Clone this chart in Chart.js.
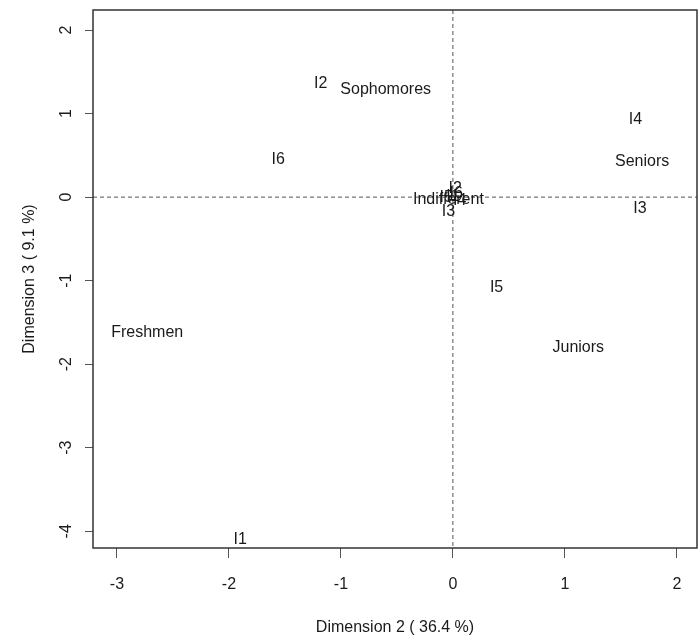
<!DOCTYPE html>
<html>
<head>
<meta charset="utf-8">
<script src="https://cdn.jsdelivr.net/npm/chart.js@4"></script>
<style>
  body { margin: 0; background: #fff; }
  #wrap { width: 698px; height: 635px; }
</style>
</head>
<body>
<div id="wrap"><canvas id="caChart" width="698" height="635"></canvas></div>
<script>
// Point labels and their coordinates (Dimension 2, Dimension 3)
const pointLabels = ['Sophomores', 'I2', 'I6', 'I4', 'Seniors', 'I3', 'I5', 'Juniors', 'Freshmen', 'I1',
  'Indifferent', 'I2', 'I3', 'I1', 'I4', 'I5', 'I6'];
const dim2 = [-0.60, -1.18, -1.56, 1.63, 1.69, 1.67, 0.39, 1.12, -2.73, -1.90,
  -0.04, 0.02, -0.04, 0.00, 0.06, -0.06, 0.03];
const dim3 = [1.31, 1.38, 0.47, 0.95, 0.44, -0.12, -1.07, -1.78, -1.60, -4.08,
  -0.01, 0.12, -0.16, 0.03, -0.02, 0.01, 0.06];

// Axis tick values
const xTicks = [-3, -2, -1, 0, 1, 2];
const yTicks = [-4, -3, -2, -1, 0, 1, 2];

const textColor = '#1a1a1a';
const fontFamily = "'Liberation Sans', Arial, sans-serif";

// Draws box, dashed zero lines and text labels
const mapPlugin = {
  id: 'mapPlugin',
  beforeDatasetsDraw(chart) {
    const { ctx, chartArea: a, scales } = chart;
    const x0 = scales.x.getPixelForValue(0);
    const y0 = scales.y.getPixelForValue(0);
    ctx.save();
    ctx.strokeStyle = '#555';
    ctx.lineWidth = 1;
    ctx.setLineDash([4, 3]);
    ctx.beginPath();
    ctx.moveTo(x0, a.top);
    ctx.lineTo(x0, a.bottom);
    ctx.moveTo(a.left, y0);
    ctx.lineTo(a.right, y0);
    ctx.stroke();
    ctx.setLineDash([]);
    ctx.strokeStyle = '#333';
    ctx.lineWidth = 1.5;
    ctx.strokeRect(a.left, a.top, a.right - a.left, a.bottom - a.top);
    ctx.restore();
  },
  afterDatasetsDraw(chart) {
    const { ctx } = chart;
    const meta = chart.getDatasetMeta(0);
    ctx.save();
    ctx.fillStyle = textColor;
    ctx.font = '16px ' + fontFamily;
    ctx.textAlign = 'center';
    ctx.textBaseline = 'middle';
    meta.data.forEach((pt, i) => {
      // small offset so the glyphs sit visually centred on the point
      ctx.fillText(pointLabels[i], pt.x, pt.y + 1.5);
    });
    ctx.restore();
  }
};

const ctx = document.getElementById('caChart').getContext('2d');
new Chart(ctx, {
  type: 'scatter',
  data: {
    datasets: [{
      data: dim2.map((v, i) => ({ x: v, y: dim3[i] })),
      pointRadius: 0,
      pointHoverRadius: 0
    }]
  },
  options: {
    responsive: false,
    animation: false,
    layout: { padding: { top: 10, right: 1, left: 0, bottom: 0 } },
    plugins: { legend: { display: false }, tooltip: { enabled: false } },
    scales: {
      x: {
        type: 'linear',
        min: -3.214,
        max: 2.18,
        afterFit: s => { s.height = 87; s.paddingLeft = 0; s.paddingRight = 0; },
        afterBuildTicks: s => { s.ticks = xTicks.map(v => ({ value: v })); },
        grid: { drawOnChartArea: false, tickLength: 10, tickColor: '#555', tickWidth: 1 },
        border: { display: false },
        ticks: {
          color: textColor,
          font: { family: fontFamily, size: 16 },
          padding: 17,
          maxRotation: 0,
          autoSkip: false
        },
        title: {
          display: true,
          text: 'Dimension 2 ( 36.4 %)',
          color: textColor,
          font: { family: fontFamily, size: 16, lineHeight: 1 },
          padding: { top: 0, bottom: -1 }
        }
      },
      y: {
        type: 'linear',
        min: -4.2,
        max: 2.24,
        afterFit: s => { s.width = 93; s.paddingTop = 0; s.paddingBottom = 0; },
        afterBuildTicks: s => { s.ticks = yTicks.map(v => ({ value: v })); },
        grid: { drawOnChartArea: false, tickLength: 8, tickColor: '#555', tickWidth: 1 },
        border: { display: false },
        ticks: {
          color: textColor,
          font: { family: fontFamily, size: 16 },
          padding: 11,
          minRotation: 90,
          maxRotation: 90,
          crossAlign: 'center',
          autoSkip: false
        },
        title: {
          display: true,
          text: 'Dimension 3 ( 9.1 %)',
          color: textColor,
          font: { family: fontFamily, size: 16, lineHeight: 1 },
          padding: { top: 22, bottom: 0 }
        }
      }
    }
  },
  plugins: [mapPlugin]
});
</script>
</body>
</html>
